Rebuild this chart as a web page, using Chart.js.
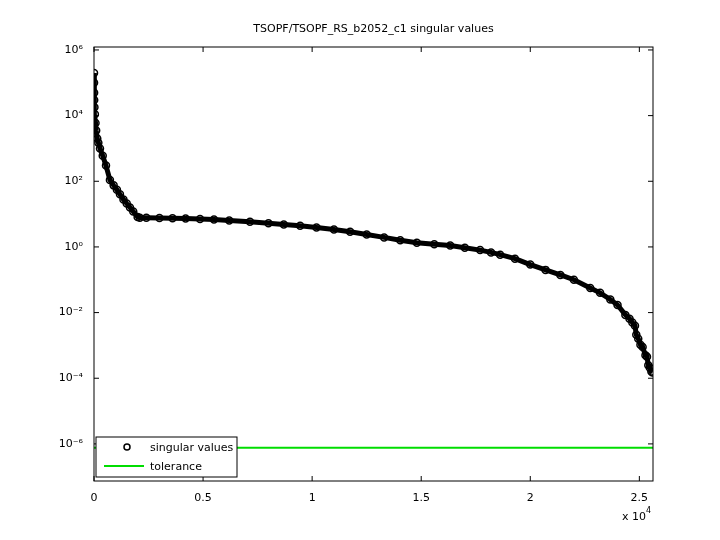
<!DOCTYPE html><html><head><script src="https://cdn.jsdelivr.net/npm/chart.js@4"></script>
<style>body{margin:0;background:#fff}</style></head><body>
<div style="width:720px;height:540px"><canvas id="c" width="720" height="540"></canvas></div>
<script>
const idx = [1,3,6,10,20,40,70,100,150,200,275,400,550,730,900,1050,1190,1350,1500,1650,1800,2000,2100,2400,3000,3600,4200,4860,5500,6200,7150,8000,8700,9450,10200,11000,11740,12500,13300,14040,14800,15600,16330,17000,17700,18200,18620,19300,20000,20700,21380,22000,22750,23200,23670,24000,24360,24550,24680,24800,24860,24950,25050,25150,25280,25350,25410,25480,25550,25600];
const sv = [2e5,1e5,5e4,3e4,1.8e4,1.1e4,6e3,3.5e3,2e3,1.5e3,1000,600,300,110,75,55,40,28,21,16,12,8.2,7.8,7.7,7.6,7.5,7.3,7.1,6.8,6.4,5.8,5.3,4.8,4.4,3.9,3.4,2.9,2.4,1.95,1.6,1.35,1.2,1.1,0.95,0.8,0.68,0.58,0.44,0.29,0.2,0.14,0.1,0.056,0.04,0.025,0.017,0.0085,0.0065,0.005,0.004,0.0021,0.0016,0.00105,0.0009,0.0005,0.00045,0.00025,0.00021,0.00016,0.00015];
const tol = 7.6e-7;
const N = 25626;
const pts = idx.map((x,i)=>({x, y: sv[i]}));
const sup = {'-':'⁻','0':'⁰','1':'¹','2':'²','3':'³','4':'⁴','5':'⁵','6':'⁶','7':'⁷','8':'⁸','9':'⁹'};
const deco = {id:'deco', afterDraw(ch){
  const c=ch.ctx, a=ch.chartArea;
  c.save(); c.strokeStyle='#000'; c.lineWidth=1;
  c.strokeRect(a.left,a.top,a.right-a.left,a.bottom-a.top);
  c.fillStyle='#000'; c.font='11px "DejaVu Sans"'; c.textAlign='center';
  c.fillText('TSOPF/TSOPF_RS_b2052_c1 singular values',(a.left+a.right)/2,32);
  c.textAlign='left'; c.fillText('x 10',622,520); c.font='8px "DejaVu Sans"'; c.fillText('4',646,513);
  const xs=ch.scales.x, ys=ch.scales.y;
  [0,5000,10000,15000,20000,25000].forEach(v=>{const p=xs.getPixelForValue(v);c.beginPath();c.moveTo(p,a.bottom);c.lineTo(p,a.bottom-5);c.moveTo(p,a.top);c.lineTo(p,a.top+5);c.stroke();});
  [-6,-4,-2,0,2,4,6].forEach(e=>{const p=ys.getPixelForValue(Math.pow(10,e));c.beginPath();c.moveTo(a.left,p);c.lineTo(a.left+5,p);c.moveTo(a.right,p);c.lineTo(a.right-5,p);c.stroke();});
  c.fillStyle='#fff'; c.fillRect(96,437,141,40); c.strokeRect(96,437,141,40);
  c.beginPath(); c.arc(127,447,3,0,7); c.lineWidth=1.5; c.stroke();
  c.strokeStyle='#00dd00'; c.lineWidth=2; c.beginPath(); c.moveTo(104,466); c.lineTo(144,466); c.stroke();
  c.fillStyle='#000'; c.font='11px "DejaVu Sans"'; c.fillText('singular values',150,451); c.fillText('tolerance',150,470);
  c.restore();
}};
new Chart(document.getElementById('c'),{type:'scatter',
 data:{datasets:[
  {data:[{x:0,y:tol},{x:N,y:tol}],showLine:true,borderColor:'#00dd00',borderWidth:2,pointRadius:0},
  {data:pts,showLine:true,borderColor:'#000',borderWidth:5,pointRadius:3.5,pointBorderWidth:1.5,pointBorderColor:'#000',pointBackgroundColor:'rgba(0,0,0,0)'}]},
 options:{responsive:false,animation:false,devicePixelRatio:1,
  layout:{padding:{top:47,right:67,left:0,bottom:0}},
  plugins:{legend:{display:false},tooltip:{enabled:false}},
  scales:{
   x:{type:'linear',min:0,max:N,grid:{display:false},border:{display:false},
     afterFit(s){s.height=59;},
     afterBuildTicks(s){s.ticks=[0,5000,10000,15000,20000,25000].map(v=>({value:v}));},
     ticks:{color:'#000',font:{size:11,family:'DejaVu Sans'},callback:v=>String(v/1e4)}},
   y:{type:'logarithmic',min:Math.pow(10,-7.13),max:Math.pow(10,6.09),grid:{display:false},border:{display:false},
     afterFit(s){s.width=94;},
     afterBuildTicks(s){s.ticks=[-6,-4,-2,0,2,4,6].map(e=>({value:Math.pow(10,e)}));},
     ticks:{color:'#000',font:{size:11,family:'DejaVu Sans'},callback:v=>'10'+String(Math.round(Math.log10(v))).split('').map(ch=>sup[ch]).join('')}}
  }},plugins:[deco]});
</script></body></html>
